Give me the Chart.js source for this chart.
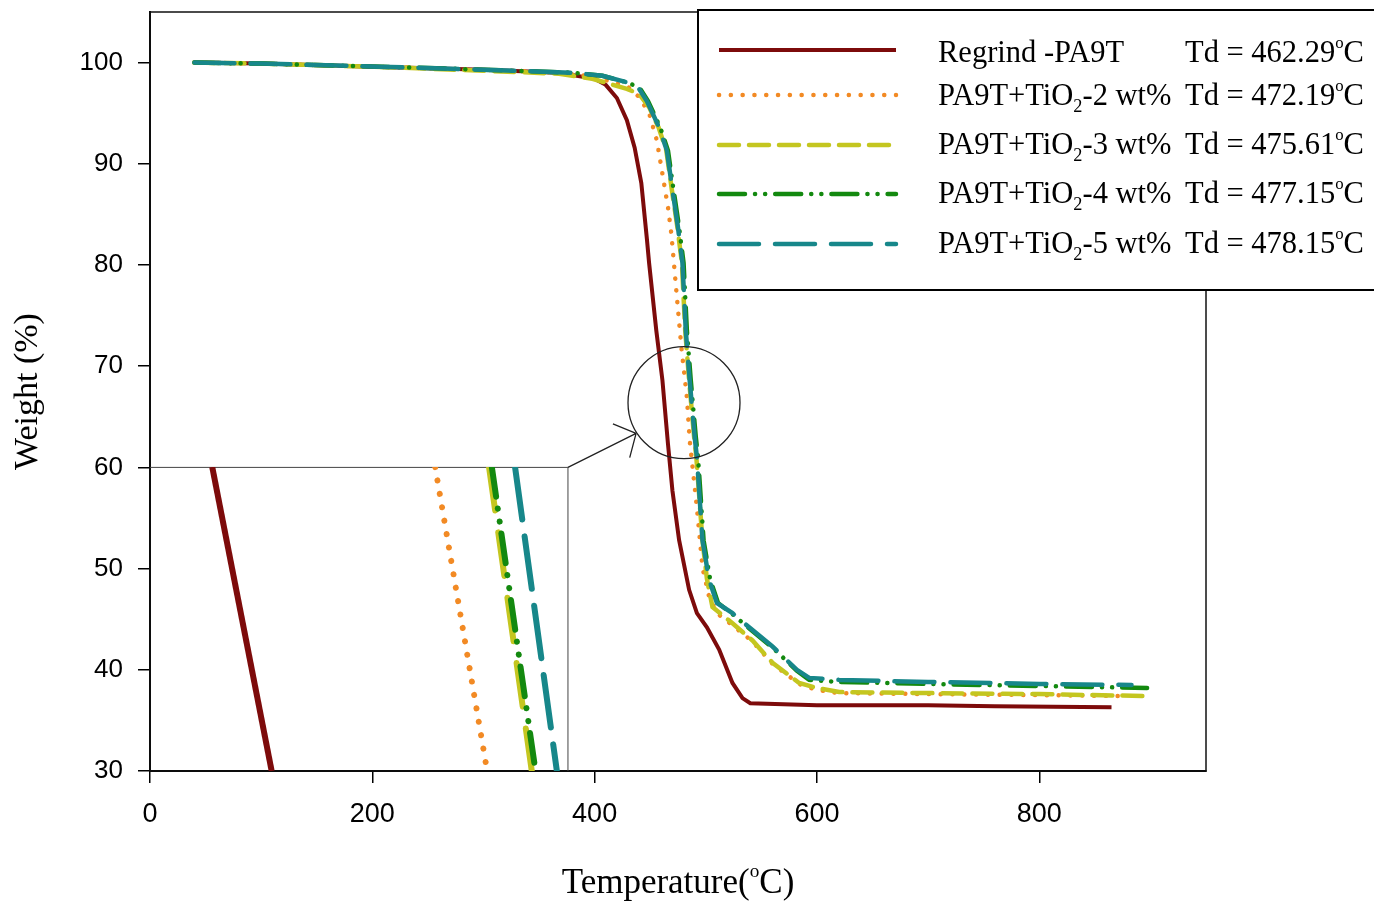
<!DOCTYPE html>
<html>
<head>
<meta charset="utf-8">
<script src="https://cdn.jsdelivr.net/npm/chart.js@4.4.0/dist/chart.umd.min.js"></script>
<style>
  html, body { margin: 0; padding: 0; background: #fff; }
  #wrap { position: relative; width: 1374px; height: 901px; }
  #main { position: absolute; left: 0; top: 0; }
  #insetBox { position: absolute; }
  #insetBox canvas { display: block; }
</style>
</head>
<body>
<div id="wrap">
  <canvas id="main" width="1374" height="901"></canvas>
  <div id="insetBox"><canvas id="inset"></canvas></div>
</div>
<script>
// ── Data ───────────────────────────────────────────────────────────────────
const regrindTemp   = [40, 100, 200, 300, 368, 400, 410, 420, 429, 436, 442, 447, 449, 455.5, 461, 466, 470, 476, 485, 492, 501, 512, 524, 533, 540, 600, 700, 760, 865];
const regrindWeight = [100, 99.9, 99.6, 99.3, 99.0, 98.4, 97.8, 96.5, 94.3, 91.6, 88.1, 82.6, 80.2, 73.5, 68.6, 62.3, 57.7, 52.8, 47.9, 45.6, 44.2, 42.0, 38.7, 37.2, 36.7, 36.5, 36.5, 36.4, 36.3];

const tio2Temp2   = [40, 100, 200, 300, 368, 400, 430, 440, 449, 456, 461, 466, 469, 474, 478, 483, 485.5, 492, 497, 503, 510, 524, 542, 560, 584, 600, 620, 700, 800, 880];
const tio2Weight2 = [100, 99.9, 99.6, 99.3, 99.0, 98.6, 97.6, 96.6, 95.0, 92.3, 89.0, 85.7, 83.1, 76.8, 71.9, 66.9, 62.7, 56.0, 50.1, 47.2, 45.6, 44.4, 42.8, 40.6, 38.6, 38.0, 37.7, 37.6, 37.5, 37.4];

const tio2Temp3   = [40, 100, 200, 300, 368, 398, 429, 440, 449, 457.5, 464.5, 469.5, 474.5, 478.5, 481.5, 485, 489.5, 491.5, 497, 501, 506, 524, 542, 560, 584, 600, 620, 700, 800, 899];
const tio2Weight3 = [100, 99.9, 99.6, 99.2, 98.9, 98.4, 97.4, 96.9, 95.6, 93.6, 91.3, 87.4, 83.7, 80.2, 73.5, 68.6, 63.0, 61.0, 52.8, 49.0, 46.2, 44.6, 42.9, 40.7, 38.7, 38.2, 37.8, 37.7, 37.6, 37.4];

const tio2Temp4   = [40, 100, 206, 300, 380, 407, 431, 441, 448, 459, 466, 471, 476, 480, 483, 486.5, 491, 493, 498, 504, 511, 524, 539, 560, 582, 593, 620, 700, 800, 897];
const tio2Weight4 = [100, 99.9, 99.6, 99.3, 99.0, 98.7, 98.0, 97.4, 96.2, 93.6, 91.3, 87.4, 83.7, 80.2, 73.5, 68.6, 63.0, 61.0, 52.8, 48.9, 46.6, 45.5, 44.1, 42.2, 39.9, 39.0, 38.8, 38.6, 38.4, 38.2];

const tio2Temp5   = [40, 100, 206, 300, 380, 407, 431, 440, 447, 458, 465, 470, 475, 479, 482, 485.5, 490, 492, 497, 503, 510, 524, 539, 560, 582, 593, 620, 700, 800, 883];
const tio2Weight5 = [100, 99.9, 99.6, 99.3, 99.0, 98.7, 98.0, 97.4, 96.2, 93.6, 91.3, 87.4, 83.7, 80.2, 73.5, 68.6, 63.0, 61.0, 52.8, 48.9, 46.6, 45.6, 44.2, 42.3, 40.0, 39.2, 39.0, 38.8, 38.6, 38.5];

// zoomed view shown in the lower-left box (two end points per line)
const insetWeight       = [72, 61];
const insetRegrindTemp  = [456.7, 463.1];
const insetTemp2        = [480.7, 486.3];
const insetTemp3        = [486.5, 491.1];
const insetTemp4        = [486.8, 491.5];
const insetTemp5        = [489.3, 493.8];

const seriesNames = ["Regrind -PA9T", "PA9T+TiO2-2 wt%", "PA9T+TiO2-3 wt%", "PA9T+TiO2-4 wt%", "PA9T+TiO2-5 wt%"];
const tio2Loadings = [null, 2, 3, 4, 5];
const tdValues = [462.29, 472.19, 475.61, 477.15, 478.15];

const xTicksShown = [0, 200, 400, 600, 800];
const yTicksShown = [30, 40, 50, 60, 70, 80, 90, 100];

// ── Styles ─────────────────────────────────────────────────────────────────
const SERIF = '"Liberation Serif", "Times New Roman", serif';
const SANS  = '"Liberation Sans", Arial, sans-serif';

const COLORS = ["#7d0b0b", "#f28a24", "#c4c620", "#13890f", "#17878a"];
const DASH_MAIN  = [[], [0.1, 11.7], [20, 10], [26, 10, 0.1, 10, 0.1, 10], [40, 16]];
const DASH_INSET = [[], [0.1, 13.5], [44, 22], [30, 12, 0.1, 13, 0.1, 12], [53, 17]];
const WIDTH_MAIN = [4, 4.5, 4.5, 4.5, 4.5];

const INSET_T_MAX = 376;
const CIRCLE_CENTER = { x: 480.4, y: 66.4 };

function toPoints(xs, ys) {
  return xs.map((x, i) => ({ x: x, y: ys[i] }));
}

function drawRich(ctx, parts, x, y, size, measureOnly) {
  let cx = x;
  parts.forEach((p) => {
    let fs = size, dy = 0;
    if (p.sub) { fs = size * 0.6; dy = size * 0.24; }
    if (p.sup) { fs = size * 0.55; dy = -size * 0.45; }
    ctx.font = fs + "px " + SERIF;
    if (!measureOnly) ctx.fillText(p.t, cx, y + dy);
    cx += ctx.measureText(p.t).width;
  });
  return cx - x;
}

function nameParts(i) {
  if (tio2Loadings[i] === null) return [{ t: seriesNames[i] }];
  return [{ t: "PA9T+TiO" }, { t: "2", sub: true }, { t: "-" + tio2Loadings[i] + " wt%" }];
}

function tdParts(i) {
  return [{ t: "Td = " + tdValues[i].toFixed(2) }, { t: "o", sup: true }, { t: "C" }];
}

// ── Extra drawing: frame, zoom marker, legend, axis titles ────────────────
const decorPlugin = {
  id: "decor",
  afterDraw(chart) {
    const ctx = chart.ctx;
    const a = chart.chartArea;
    const xs = chart.scales.x, ys = chart.scales.y;
    ctx.save();

    // frame
    ctx.strokeStyle = "#111";
    ctx.lineWidth = 1.5;
    ctx.strokeRect(a.left, a.top, a.right - a.left, a.bottom - a.top);

    // inset box outline
    const bx = xs.getPixelForValue(INSET_T_MAX);
    const by = ys.getPixelForValue(60);
    ctx.strokeStyle = "#444";
    ctx.lineWidth = 1;
    ctx.beginPath();
    ctx.moveTo(a.left, by);
    ctx.lineTo(bx, by);
    ctx.lineTo(bx, a.bottom);
    ctx.stroke();

    // circle around the zoomed region
    const cx = xs.getPixelForValue(CIRCLE_CENTER.x);
    const cy = ys.getPixelForValue(CIRCLE_CENTER.y);
    ctx.strokeStyle = "#222";
    ctx.lineWidth = 1.3;
    ctx.beginPath();
    ctx.arc(cx, cy, 56, 0, Math.PI * 2);
    ctx.stroke();

    // arrow from inset box to circle
    const ang = Math.atan2(cy - by, cx - bx);
    const tipX = cx - 56 * Math.cos(ang) * 0.98;
    const tipY = cy - 56 * Math.sin(ang) * 0.98 + 4;
    const dir = Math.atan2(tipY - by, tipX - bx);
    ctx.beginPath();
    ctx.moveTo(bx, by);
    ctx.lineTo(tipX, tipY);
    [0.85, -0.85].forEach((d) => {
      ctx.moveTo(tipX, tipY);
      ctx.lineTo(tipX - 25 * Math.cos(dir + d), tipY - 25 * Math.sin(dir + d));
    });
    ctx.stroke();

    // legend box
    const lx = 698, ly = 10, lw = 720, lh = 280;
    ctx.fillStyle = "#fff";
    ctx.fillRect(lx, ly, lw, lh);
    ctx.strokeStyle = "#000";
    ctx.lineWidth = 2;
    ctx.strokeRect(lx, ly, lw, lh);

    const rowLineY = [50, 95, 145, 194, 244];
    const rowTextY = [62, 105, 154, 203, 253];
    chart.data.datasets.forEach((ds, i) => {
      ctx.strokeStyle = ds.borderColor;
      ctx.lineWidth = ds.borderWidth;
      ctx.lineCap = ds.borderCapStyle || "butt";
      ctx.setLineDash(ds.borderDash || []);
      ctx.beginPath();
      ctx.moveTo(719, rowLineY[i]);
      ctx.lineTo(896, rowLineY[i]);
      ctx.stroke();
      ctx.setLineDash([]);
      ctx.lineCap = "butt";

      ctx.fillStyle = "#000";
      ctx.textBaseline = "alphabetic";
      ctx.textAlign = "left";
      drawRich(ctx, nameParts(i), 938, rowTextY[i], 30.5);
      drawRich(ctx, tdParts(i), 1185, rowTextY[i], 30.5);
    });

    // axis titles
    ctx.fillStyle = "#000";
    const xTitle = [{ t: "Temperature(" }, { t: "o", sup: true }, { t: "C)" }];
    const w = drawRich(ctx, xTitle, 0, 0, 35, true);
    drawRich(ctx, xTitle, (a.left + a.right) / 2 - w / 2, 893, 35);

    ctx.translate(28, (a.top + a.bottom) / 2);
    ctx.rotate(-Math.PI / 2);
    ctx.font = "34px " + SERIF;
    ctx.textAlign = "center";
    ctx.textBaseline = "middle";
    ctx.fillText("Weight (%)", 0, 0);

    ctx.restore();
  },
};

const mainTemps   = [regrindTemp, tio2Temp2, tio2Temp3, tio2Temp4, tio2Temp5];
const mainWeights = [regrindWeight, tio2Weight2, tio2Weight3, tio2Weight4, tio2Weight5];

const mainChart = new Chart(document.getElementById("main"), {
  type: "line",
  data: {
    datasets: seriesNames.map((name, i) => ({
      label: name,
      data: toPoints(mainTemps[i], mainWeights[i]),
      borderColor: COLORS[i],
      borderWidth: WIDTH_MAIN[i],
      borderDash: DASH_MAIN[i],
      borderCapStyle: i === 0 ? "butt" : "round",
      pointRadius: 0,
      tension: 0,
      fill: false,
      order: 4 - i,
    })),
  },
  options: {
    responsive: false,
    animation: false,
    layout: { padding: { top: 12, right: 168, left: 0, bottom: 0 } },
    plugins: { legend: { display: false }, tooltip: { enabled: false } },
    scales: {
      x: {
        type: "linear",
        min: 0,
        max: 950,
        afterBuildTicks: (s) => { s.ticks = xTicksShown.map((v) => ({ value: v })); },
        afterFit: (s) => { s.height = 130; s.paddingLeft = 0; s.paddingRight = 0; },
        ticks: { color: "#000", font: { family: SANS, size: 27 }, padding: 15, maxRotation: 0 },
        grid: { drawOnChartArea: false, tickLength: 12, tickColor: "#000", lineWidth: 1.5 },
        border: { color: "#000", width: 2 },
      },
      y: {
        type: "linear",
        min: 30,
        max: 105,
        afterBuildTicks: (s) => { s.ticks = yTicksShown.map((v) => ({ value: v })); },
        afterFit: (s) => { s.width = 150; s.paddingTop = 0; s.paddingBottom = 0; },
        ticks: { color: "#000", font: { family: SANS, size: 26 }, padding: 15 },
        grid: { drawOnChartArea: false, tickLength: 12, tickColor: "#000", lineWidth: 1.5 },
        border: { color: "#000", width: 2 },
      },
    },
  },
  plugins: [decorPlugin],
});

// ── Inset: zoomed lines drawn in the lower-left box ───────────────────────
const insetDiv = document.getElementById("insetBox");
const insetCanvas = document.getElementById("inset");
const boxLeft   = Math.round(mainChart.scales.x.getPixelForValue(0));
const boxRight  = Math.round(mainChart.scales.x.getPixelForValue(INSET_T_MAX));
const boxTop    = Math.round(mainChart.scales.y.getPixelForValue(60));
const boxBottom = Math.round(mainChart.scales.y.getPixelForValue(30));
insetDiv.style.left = boxLeft + "px";
insetDiv.style.top = boxTop + "px";
insetCanvas.width = boxRight - boxLeft;
insetCanvas.height = boxBottom - boxTop;

const insetTemps = [insetRegrindTemp, insetTemp2, insetTemp3, insetTemp4, insetTemp5];

new Chart(insetCanvas, {
  type: "line",
  data: {
    datasets: seriesNames.map((name, i) => ({
      label: name,
      data: toPoints(insetTemps[i], insetWeight),
      borderColor: COLORS[i],
      borderWidth: 6,
      borderDash: DASH_INSET[i],
      borderCapStyle: i === 0 ? "butt" : "round",
      pointRadius: 0,
      tension: 0,
      fill: false,
      order: 4 - i,
    })),
  },
  options: {
    responsive: false,
    animation: false,
    layout: { padding: 0 },
    plugins: { legend: { display: false }, tooltip: { enabled: false } },
    scales: {
      x: { type: "linear", min: 450, max: 495, display: false },
      y: { type: "linear", min: 61, max: 72, display: false },
    },
  },
});
</script>
</body>
</html>
